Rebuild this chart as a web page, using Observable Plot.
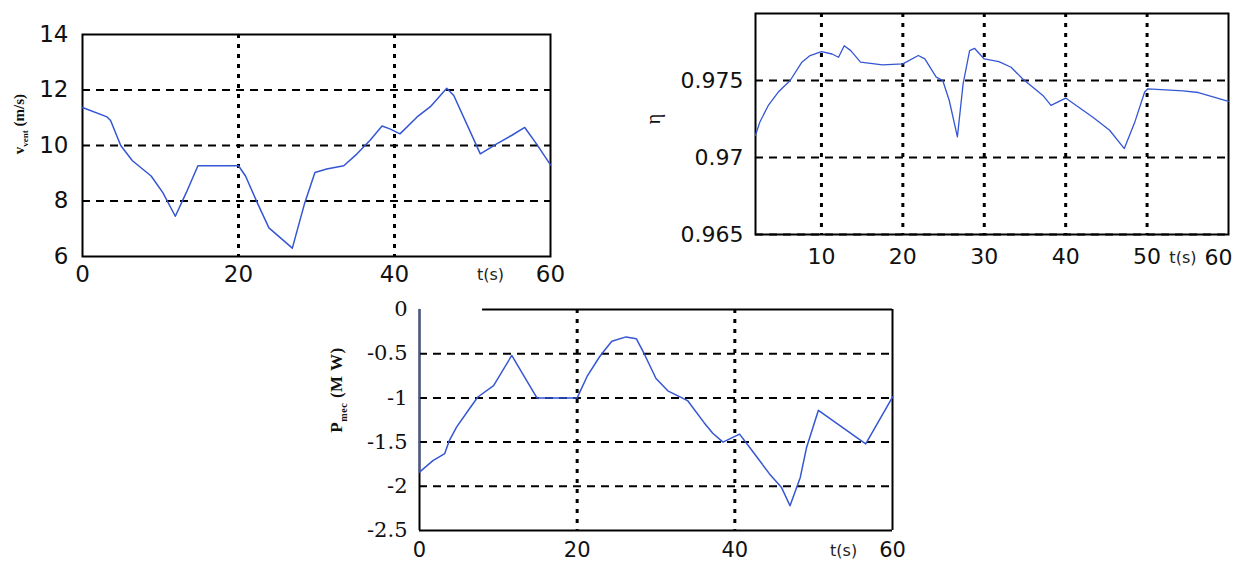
<!DOCTYPE html>
<html>
<head>
<meta charset="utf-8">
<script src="https://cdn.jsdelivr.net/npm/d3@7"></script>
<script src="https://cdn.jsdelivr.net/npm/@observablehq/plot@0.6"></script>
<style>
  html, body { margin: 0; padding: 0; background: #fff; }
  #page { position: relative; width: 1246px; height: 563px; overflow: hidden; background: #fff; }
  .panel { position: absolute; }
  .ylab { position: absolute; transform: translate(-50%, -50%) rotate(-90deg); white-space: nowrap; color: #111; }
  .ylab sub { font-size: 0.6em; }
</style>
</head>
<body>
<div id="page">
  <div class="panel" id="c1" style="left:0px; top:0px;"></div>
  <div class="panel" id="c2" style="left:640px; top:0px;"></div>
  <div class="panel" id="c3" style="left:300px; top:290px;"></div>
  <div class="ylab" style="left:20px; top:124px; font: bold 15px 'Liberation Serif';">v<sub>vent</sub> (m/s)</div>
  <div class="ylab" style="left:653px; top:119px; font: 20px 'Liberation Serif';">η</div>
  <div class="ylab" style="left:338px; top:390px; font: bold 17px 'Liberation Serif'; letter-spacing:0.5px;">P<sub>mec</sub> (M W)</div>
</div>
<script>
// ---------- Data ----------
// Chart 1: wind speed v_vent (m/s) vs t (s)
const t1 = [0, 3.15, 3.6, 4.9, 6.4, 8.8, 10.3, 11.9, 13.3, 14.8, 20, 20.9, 22.4, 23.9, 26.9, 28.5, 29.8, 31.3, 33.5, 35.2, 36.9, 38.4, 39.4, 40.7, 42.9, 44.6, 46.7, 47.6, 51.0, 53.1, 55.0, 56.7, 58.2, 60];
const v1 = [11.37, 11.03, 10.9, 10.0, 9.45, 8.9, 8.3, 7.45, 8.3, 9.27, 9.27, 8.9, 7.94, 7.03, 6.3, 7.94, 9.03, 9.15, 9.27, 9.7, 10.2, 10.7, 10.6, 10.42, 11.03, 11.4, 12.06, 11.8, 9.7, 10.06, 10.36, 10.65, 10.06, 9.3];
const yTicks1 = [6, 8, 10, 12, 14];
const xTicks1 = [0, 20, 40, 60];
const yGrid1 = [8, 10, 12];
const xGrid1 = [20, 40];

// Chart 2: efficiency eta vs t (s)
const t2 = [1.9, 2.44, 3.47, 4.7, 6.16, 7.6, 8.6, 10, 11.3, 12.1, 12.8, 13.6, 14.8, 17.5, 20, 21.9, 22.7, 24.1, 24.9, 25.7, 26.7, 27.4, 28.2, 28.8, 29.6, 30, 31.8, 33.3, 34.7, 37.2, 38.2, 40, 41.3, 43.3, 45.4, 47.2, 48.5, 49.7, 50.1, 54.4, 56.3, 60];
const eta2 = [0.97144, 0.97231, 0.97338, 0.97425, 0.975, 0.97619, 0.97662, 0.97688, 0.97672, 0.97651, 0.97726, 0.97694, 0.97619, 0.97601, 0.97608, 0.97662, 0.9764, 0.97522, 0.9750, 0.9737, 0.97134, 0.97478, 0.97694, 0.97709, 0.97662, 0.9764, 0.97623, 0.97586, 0.97511, 0.97403, 0.97338, 0.97386, 0.97338, 0.97263, 0.97177, 0.97058, 0.97231, 0.97425, 0.97446, 0.97433, 0.97422, 0.97365];
const yTicks2 = [0.965, 0.97, 0.975];
const xTicks2 = [10, 20, 30, 40, 50];
const xLast2 = [60];
const yGrid2 = [0.965, 0.97, 0.975];
const xGrid2 = [10, 20, 30, 40, 50];

// Chart 3: mechanical power P_mec (MW) vs t (s)
const t3 = [0, 0, 1.7, 3.2, 3.8, 4.7, 6.2, 7.4, 9.4, 11.7, 13.2, 14.9, 18.3, 20, 21.3, 22.8, 23.4, 24.4, 26.2, 27.5, 28.5, 30, 31.5, 34.0, 36.1, 37.2, 38.5, 40.6, 42.3, 44.4, 45.9, 47.0, 48.3, 49.1, 50.6, 56.6, 60];
const P3 = [0, -1.84, -1.71, -1.63, -1.48, -1.33, -1.14, -0.99, -0.86, -0.52, -0.745, -1.0, -1.0, -1.0, -0.75, -0.54, -0.47, -0.36, -0.31, -0.33, -0.5, -0.78, -0.92, -1.03, -1.28, -1.4, -1.5, -1.41, -1.61, -1.86, -2.01, -2.22, -1.9, -1.56, -1.14, -1.52, -0.99];
const yTicks3 = [-2.5, -2, -1.5, -1, -0.5, 0];
const xTicks3 = [0, 20, 40, 60];
const yGrid3 = [-2, -1.5, -1, -0.5];
const xGrid3 = [20, 40];

const timeLabel = ["t(s)"];

// ---------- Styling ----------
const BLUE = "#3556d4";
const hDash = {stroke: "#000", strokeWidth: 2, strokeDasharray: "8,6"};
const vDash = {stroke: "#000", strokeWidth: 3, strokeDasharray: "4,6"};
const frameStyle = {stroke: "#000", strokeWidth: 2};

const zip = (xs, ys) => xs.map((x, i) => ({t: x, v: ys[i]}));

// ---------- Chart 1 ----------
const c1 = Plot.plot({
  width: 570, height: 295,
  marginLeft: 82, marginRight: 20, marginTop: 34, marginBottom: 39,
  style: {background: "transparent", overflow: "visible"},
  x: {domain: [0, 60]},
  y: {domain: [6, 14]},
  marks: [
    Plot.ruleY(yGrid1, hDash),
    Plot.ruleX(xGrid1, vDash),
    Plot.frame(frameStyle),
    Plot.axisX({ticks: xTicks1, tickSize: 0, tickPadding: 9, tickFormat: d => String(d), fontSize: 23, fontFamily: "DejaVu Sans", label: null, fill: "#111"}),
    Plot.axisY({ticks: yTicks1, tickSize: 0, tickPadding: 14, tickFormat: d => String(d), fontSize: 23, fontFamily: "DejaVu Sans", label: null, fill: "#111"}),
    Plot.text(timeLabel, {x: 52.3, frameAnchor: "bottom", lineAnchor: "middle", dy: 18, text: d => d, fontSize: 16, fontFamily: "DejaVu Sans", fill: "#222"}),
    Plot.line(zip(t1, v1), {x: "t", y: "v", stroke: BLUE, strokeWidth: 1.5})
  ]
});
document.getElementById("c1").append(c1);

// ---------- Chart 2 ----------
const c2 = Plot.plot({
  width: 606, height: 290,
  marginLeft: 115, marginRight: 18, marginTop: 13, marginBottom: 56,
  style: {background: "transparent", overflow: "visible"},
  x: {domain: [1.9, 60]},
  y: {domain: [0.965, 0.97935]},
  marks: [
    Plot.frame(frameStyle),
    Plot.ruleY(yGrid2, hDash),
    Plot.ruleX(xGrid2, vDash),
    Plot.axisX({ticks: xTicks2, tickSize: 0, tickPadding: 14, tickFormat: d => String(d), fontSize: 22, fontFamily: "DejaVu Sans", label: null, fill: "#111"}),
    Plot.text(xLast2, {x: d => d, frameAnchor: "bottom", lineAnchor: "middle", dy: 23, dx: -10, text: d => String(d), fontSize: 22, fontFamily: "DejaVu Sans", fill: "#111"}),
    Plot.axisY({ticks: yTicks2, tickSize: 0, tickPadding: 12, tickFormat: d => String(d), fontSize: 22, fontFamily: "DejaVu Sans", label: null, fill: "#111"}),
    Plot.text(timeLabel, {x: 54.4, frameAnchor: "bottom", lineAnchor: "middle", dy: 23, text: d => d, fontSize: 16, fontFamily: "DejaVu Sans", fill: "#222"}),
    Plot.line(zip(t2, eta2), {x: "t", y: "v", stroke: BLUE, strokeWidth: 1.3})
  ]
});
document.getElementById("c2").append(c2);

// ---------- Chart 3 ----------
const c3 = Plot.plot({
  width: 620, height: 273,
  marginLeft: 119, marginRight: 28, marginTop: 19, marginBottom: 33,
  style: {background: "transparent", overflow: "visible"},
  x: {domain: [0, 60]},
  y: {domain: [-2.5, 0]},
  marks: [
    Plot.ruleY(yGrid3, hDash),
    Plot.ruleX(xGrid3, vDash),
    Plot.ruleX([0, 60], frameStyle),
    Plot.ruleY([-2.5], frameStyle),
    Plot.ruleY([0], {...frameStyle, x1: 8, x2: 60}),
    Plot.axisX({ticks: xTicks3, tickSize: 0, tickPadding: 12, tickFormat: d => String(d), fontSize: 21, fontFamily: "DejaVu Sans", label: null, fill: "#111"}),
    Plot.axisY({ticks: yTicks3, tickSize: 0, tickPadding: 12, tickFormat: d => String(d), fontSize: 21, fontFamily: "DejaVu Serif", label: null, fill: "#111"}),
    Plot.text(timeLabel, {x: 53.8, frameAnchor: "bottom", lineAnchor: "middle", dy: 20, text: d => d, fontSize: 16, fontFamily: "DejaVu Sans", fill: "#222"}),
    Plot.line(zip(t3, P3), {x: "t", y: "v", stroke: BLUE, strokeWidth: 1.5})
  ]
});
document.getElementById("c3").append(c3);
</script>
</body>
</html>
